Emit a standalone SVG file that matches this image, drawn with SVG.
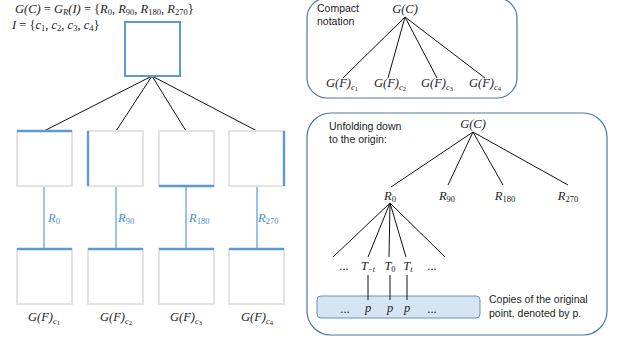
<svg xmlns="http://www.w3.org/2000/svg" width="621" height="343" viewBox="0 0 621 343">
<style>
.m{font-family:"Liberation Serif","DejaVu Serif",serif;font-style:italic;font-size:12.5px;fill:#222}
.u{font-style:normal}
.s{font-size:8.5px}
.ss{font-size:6.5px;font-style:normal}
.t{font-family:"Liberation Sans","Open Sans",sans-serif;font-size:10.5px;fill:#222}
.bl{fill:#4a8fd0}
.ln{stroke:#111;stroke-width:1;fill:none}
.bline{stroke:#5b9bd5;stroke-width:1.2;fill:none}
.gbox{fill:#fff;stroke:#e3e3e3;stroke-width:2}
.bedge{stroke:#5b9bd5;stroke-width:2.4;fill:none}
.panel{fill:#fff;stroke:#4a78a8;stroke-width:1.2}
</style>
<rect width="621" height="343" fill="#fff"/>

<g id="compact-panel">
<rect class="panel" x="307" y="-2" width="210" height="100" rx="20"/>
<text class="t" x="317" y="12">Compact</text>
<text class="t" x="317" y="25">notation</text>
</g>
<g id="unfold-panel">
<rect class="panel" x="307" y="113" width="300" height="222" rx="24"/>
<text class="t" x="329" y="130">Unfolding down</text>
<text class="t" x="329" y="143">to the origin:</text>
</g>

<g id="connectors">
<line class="ln" x1="152" y1="76" x2="44" y2="131"/>
<line class="ln" x1="152" y1="76" x2="116" y2="131"/>
<line class="ln" x1="152" y1="76" x2="186" y2="131"/>
<line class="ln" x1="152" y1="76" x2="257" y2="131"/>
<line class="bline" x1="44" y1="186" x2="44" y2="249"/>
<line class="bline" x1="116" y1="186" x2="116" y2="249"/>
<line class="bline" x1="186" y1="186" x2="186" y2="249"/>
<line class="bline" x1="257" y1="186" x2="257" y2="249"/>
<line class="ln" x1="405" y1="17" x2="343" y2="78"/>
<line class="ln" x1="405" y1="17" x2="388" y2="78"/>
<line class="ln" x1="405" y1="17" x2="437" y2="78"/>
<line class="ln" x1="405" y1="17" x2="485" y2="78"/>
<line class="ln" x1="473" y1="132" x2="391" y2="187"/>
<line class="ln" x1="473" y1="132" x2="448" y2="185"/>
<line class="ln" x1="473" y1="132" x2="503" y2="185"/>
<line class="ln" x1="473" y1="132" x2="568" y2="185"/>
<line class="ln" x1="390" y1="203" x2="333" y2="257"/>
<line class="ln" x1="390" y1="203" x2="368" y2="257"/>
<line class="ln" x1="390" y1="203" x2="389" y2="257"/>
<line class="ln" x1="390" y1="203" x2="406" y2="257"/>
<line class="ln" x1="390" y1="203" x2="445" y2="257"/>
</g>

<g id="formula">
<text class="m" x="15" y="13">G(C) <tspan class="u">=</tspan> G<tspan class="s" dy="2">R</tspan><tspan dy="-2">(I) </tspan><tspan class="u">=</tspan> <tspan class="u">{</tspan>R<tspan class="s u" dy="2">0</tspan><tspan dy="-2" class="u">, </tspan>R<tspan class="s u" dy="2">90</tspan><tspan dy="-2" class="u">, </tspan>R<tspan class="s u" dy="2">180</tspan><tspan dy="-2" class="u">, </tspan>R<tspan class="s u" dy="2">270</tspan><tspan dy="-2" class="u">}</tspan></text>
<text class="m" x="12" y="29">I <tspan class="u">= {</tspan>c<tspan class="s u" dy="2">1</tspan><tspan dy="-2" class="u">, </tspan>c<tspan class="s u" dy="2">2</tspan><tspan dy="-2" class="u">, </tspan>c<tspan class="s u" dy="2">3</tspan><tspan dy="-2" class="u">, </tspan>c<tspan class="s u" dy="2">4</tspan><tspan dy="-2" class="u">}</tspan></text>
</g>

<g id="top-square">
<rect x="125" y="22" width="55" height="54" fill="#fff" stroke="#5b9bd5" stroke-width="2"/>
</g>

<g id="r0-box"><rect class="gbox" x="17" y="131" width="55" height="55"/><line class="bedge" x1="17" y1="131" x2="72" y2="131"/></g>
<g id="r90-box"><rect class="gbox" x="88" y="131" width="55" height="55"/><line class="bedge" x1="88" y1="131" x2="88" y2="186"/></g>
<g id="r180-box"><rect class="gbox" x="159" y="131" width="55" height="55"/><line class="bedge" x1="159" y1="186" x2="214" y2="186"/></g>
<g id="r270-box"><rect class="gbox" x="229" y="131" width="55" height="55"/><line class="bedge" x1="284" y1="131" x2="284" y2="186"/></g>

<g id="r-labels">
<text class="m bl" x="48" y="222">R<tspan class="s u" dy="2">0</tspan></text>
<text class="m bl" x="118" y="222">R<tspan class="s u" dy="2">90</tspan></text>
<text class="m bl" x="189" y="222">R<tspan class="s u" dy="2">180</tspan></text>
<text class="m bl" x="258" y="222">R<tspan class="s u" dy="2">270</tspan></text>
</g>

<g id="c1-box"><rect class="gbox" x="17" y="249" width="55" height="55"/><line class="bedge" x1="17" y1="249" x2="72" y2="249"/><text class="m" x="44" y="321" text-anchor="middle">G(F)<tspan class="s" dy="3">c<tspan class="ss" dy="1">1</tspan></tspan></text></g>
<g id="c2-box"><rect class="gbox" x="88" y="249" width="55" height="55"/><line class="bedge" x1="88" y1="249" x2="143" y2="249"/><text class="m" x="116" y="321" text-anchor="middle">G(F)<tspan class="s" dy="3">c<tspan class="ss" dy="1">2</tspan></tspan></text></g>
<g id="c3-box"><rect class="gbox" x="159" y="249" width="55" height="55"/><line class="bedge" x1="159" y1="249" x2="214" y2="249"/><text class="m" x="186" y="321" text-anchor="middle">G(F)<tspan class="s" dy="3">c<tspan class="ss" dy="1">3</tspan></tspan></text></g>
<g id="c4-box"><rect class="gbox" x="229" y="249" width="55" height="55"/><line class="bedge" x1="229" y1="249" x2="284" y2="249"/><text class="m" x="257" y="321" text-anchor="middle">G(F)<tspan class="s" dy="3">c<tspan class="ss" dy="1">4</tspan></tspan></text></g>

<g id="compact-labels">
<text class="m" x="405" y="13" text-anchor="middle">G(C)</text>
<text class="m" x="342" y="87" text-anchor="middle">G(F)<tspan class="s" dy="3">c<tspan class="ss" dy="1">1</tspan></tspan></text>
<text class="m" x="390" y="87" text-anchor="middle">G(F)<tspan class="s" dy="3">c<tspan class="ss" dy="1">2</tspan></tspan></text>
<text class="m" x="437" y="87" text-anchor="middle">G(F)<tspan class="s" dy="3">c<tspan class="ss" dy="1">3</tspan></tspan></text>
<text class="m" x="485" y="87" text-anchor="middle">G(F)<tspan class="s" dy="3">c<tspan class="ss" dy="1">4</tspan></tspan></text>
</g>

<g id="unfold-labels">
<text class="m" x="473" y="128" text-anchor="middle">G(C)</text>
<text class="m" x="390" y="200" text-anchor="middle">R<tspan class="s u" dy="2">0</tspan></text>
<text class="m" x="447" y="200" text-anchor="middle">R<tspan class="s u" dy="2">90</tspan></text>
<text class="m" x="505" y="200" text-anchor="middle">R<tspan class="s u" dy="2">180</tspan></text>
<text class="m" x="568" y="200" text-anchor="middle">R<tspan class="s u" dy="2">270</tspan></text>
<text class="m u" x="344" y="270" text-anchor="middle" font-size="9">...</text>
<text class="m" x="368" y="270" text-anchor="middle">T<tspan class="s" dy="2"><tspan class="u">−</tspan>t</tspan></text>
<text class="m" x="390" y="270" text-anchor="middle">T<tspan class="s u" dy="2">0</tspan></text>
<text class="m" x="408" y="270" text-anchor="middle">T<tspan class="s" dy="2">t</tspan></text>
<text class="m u" x="432" y="270" text-anchor="middle" font-size="9">...</text>
</g>

<g id="copies">
<rect x="317" y="296" width="163" height="22" rx="4" fill="#d6e5f4" stroke="#6b8fb8" stroke-width="1"/>
<line class="ln" x1="368" y1="275" x2="368" y2="300"/>
<line class="ln" x1="390" y1="275" x2="390" y2="300"/>
<line class="ln" x1="407" y1="275" x2="407" y2="300"/>
<text class="m u" x="345" y="313" text-anchor="middle" font-size="9">...</text>
<text class="m" x="368" y="312" text-anchor="middle" fill="#333">p</text>
<text class="m" x="390" y="312" text-anchor="middle" fill="#333">p</text>
<text class="m" x="407" y="312" text-anchor="middle" fill="#333">p</text>
<text class="m u" x="432" y="313" text-anchor="middle" font-size="9">...</text>
<text class="t" x="489" y="303">Copies of the original</text>
<text class="t" x="489" y="317">point, denoted by p.</text>
</g>
</svg>
